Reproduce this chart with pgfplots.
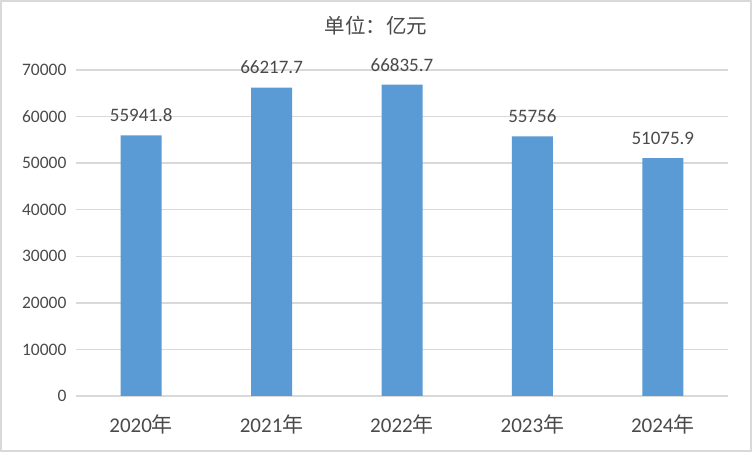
\documentclass[border=0pt]{standalone}
\usepackage{fontspec}
\setmainfont{Carlito}
\newfontfamily\cjk{Noto Sans CJK SC}
\usepackage{pgfplots}
\pgfplotsset{compat=1.18}
\definecolor{barblue}{HTML}{5B9BD5}
\definecolor{txtgray}{HTML}{4A4A4A}
\definecolor{gridgray}{HTML}{D9D9D9}
\begin{document}
\begin{tikzpicture}
\useasboundingbox (0,0) rectangle (752pt,452pt);
\fill[white] (0,0) rectangle (752pt,452pt);
\draw[gridgray, line width=2pt] (1pt,1pt) rectangle (751pt,451pt);
\begin{axis}[
  at={(76pt,56pt)}, anchor=south west,
  scale only axis, width=652pt, height=326pt,
  xmin=-0.5, xmax=4.5, ymin=0, ymax=70000,
  xtick={0,1,2,3,4},
  xticklabels={2020{\cjk 年},2021{\cjk 年},2022{\cjk 年},2023{\cjk 年},2024{\cjk 年}},
  ytick={0,10000,...,70000},
  axis line style={draw=none}, major tick length=0pt,
  ymajorgrids, grid style={gridgray, line width=1.3pt},
  /pgf/number format/assume math mode=true,
  scaled y ticks=false,
  yticklabel style={font=\fontsize{17.5}{20}\selectfont, text=txtgray, xshift=-6pt,
    /pgf/number format/1000 sep={}},
  xticklabel style={font=\fontsize{21}{24}\selectfont, text=txtgray, yshift=-15pt},
  clip=false,
]
\addplot[ybar, bar width=41pt, fill=barblue, draw=none,
  nodes near coords={\pgfmathprintnumber[fixed, precision=1, 1000 sep={}, assume math mode=true]{\pgfplotspointmeta}},
  every node near coord/.append style={font=\fontsize{19}{22}\selectfont, text=txtgray, yshift=10pt}]
  coordinates {(0,55941.8) (1,66217.7) (2,66835.7) (3,55756) (4,51075.9)};
\end{axis}
\node[font=\cjk\fontsize{20.5}{24}\selectfont, text=txtgray] at (376pt,426pt) {单位：亿元};
\end{tikzpicture}
\end{document}
